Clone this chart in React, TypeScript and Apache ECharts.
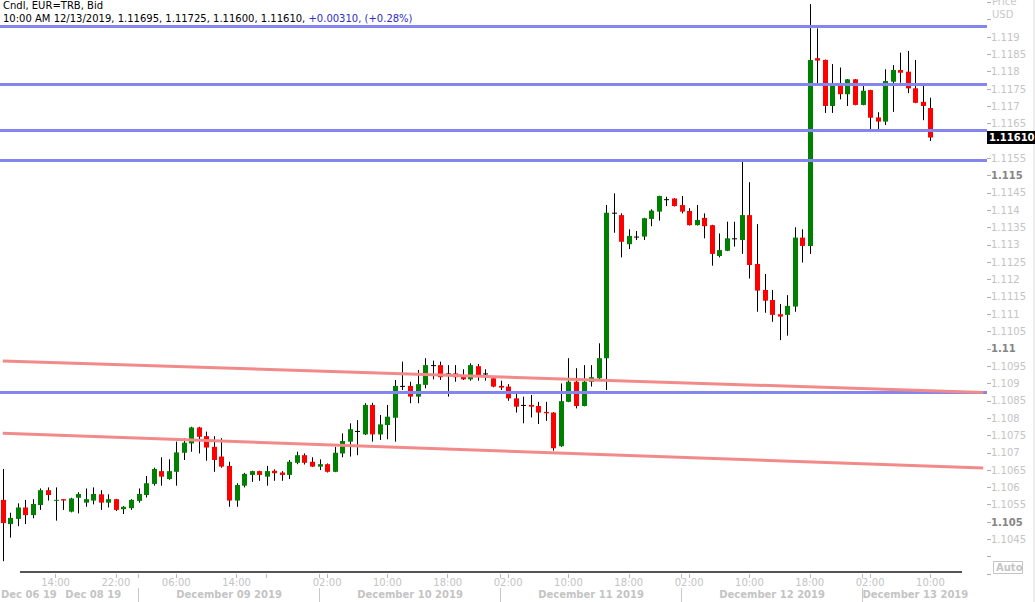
import React, { useEffect, useRef } from "react";
import * as echarts from "echarts";

// ---- time structure (hourly candles) ----
const sessionDays = ["Dec 06", "Dec 08", "Dec 09", "Dec 10", "Dec 11", "Dec 12", "Dec 13"];
const sessionFirstHour = [7, 22, 0, 0, 0, 0, 0];
const sessionLastHour = [21, 23, 23, 23, 23, 23, 10];
const emptySlots = 7;

const timeLabelIdx = [7, 15, 23, 31, 43, 51, 59, 67, 75, 83, 91, 99, 107, 115, 123];
const timeTickIdx = [7, 15, 18, 23, 31, 35, 42, 43, 51, 59, 66, 67, 75, 83, 90, 91, 99, 107, 114, 115, 123];
const dateLabelIdx = [3, 12, 30, 54, 78, 102, 121];
const dateLabels = ["Dec 06 19", "Dec 08 19", "December 09 2019", "December 10 2019", "December 11 2019", "December 12 2019", "December 13 2019"];
const daySeparatorIdx = [18, 42, 66, 90, 114];

// ---- OHLC values ----
const opens = [
  1.10564, 1.10494, 1.10509, 1.10542, 1.10520, 1.10549, 1.10592, 1.10562, 1.10566, 1.10530,
  1.10570, 1.10556, 1.10562, 1.10580, 1.10556, 1.10566, 1.10537, 1.10540, 1.10561, 1.10578,
  1.10610, 1.10647, 1.10624, 1.10645, 1.10700, 1.10727, 1.10773, 1.10748, 1.10717, 1.10689,
  1.10662, 1.10562, 1.10605, 1.10636, 1.10647, 1.10631, 1.10648, 1.10643, 1.10636, 1.10671,
  1.10693, 1.10674, 1.10660, 1.10667, 1.10645, 1.10698, 1.10732, 1.10763, 1.10753, 1.10838,
  1.10753, 1.10780, 1.10801, 1.10893, 1.10893, 1.10862, 1.10896, 1.10953, 1.10953, 1.10929,
  1.10929, 1.10921, 1.10912, 1.10950, 1.10929, 1.10915, 1.10893, 1.10891, 1.10857, 1.10838,
  1.10838, 1.10835, 1.10818, 1.10816, 1.10719, 1.10847, 1.10905, 1.10835, 1.10905, 1.10915,
  1.10973, 1.11393, 1.11386, 1.11302, 1.11324, 1.11324, 1.11375, 1.11396, 1.11432, 1.11434,
  1.11415, 1.11398, 1.11357, 1.11378, 1.11357, 1.11268, 1.11283, 1.11319, 1.11314, 1.11386,
  1.11245, 1.11170, 1.11141, 1.11100, 1.11098, 1.11122, 1.11321, 1.11297, 1.11839, 1.11834,
  1.11701, 1.11759, 1.11735, 1.11778, 1.11704, 1.11747, 1.11668, 1.11656, 1.11771, 1.11805,
  1.11800, 1.11752, 1.11713, 1.11695,
];
const highs = [
  1.10653, 1.10527, 1.10554, 1.10564, 1.10566, 1.10597, 1.10600, 1.10600, 1.10566, 1.10570,
  1.10586, 1.10597, 1.10600, 1.10592, 1.10580, 1.10567, 1.10546, 1.10566, 1.10597, 1.10633,
  1.10657, 1.10687, 1.10681, 1.10732, 1.10742, 1.10775, 1.10775, 1.10761, 1.10748, 1.10742,
  1.10674, 1.10612, 1.10642, 1.10648, 1.10648, 1.10662, 1.10652, 1.10647, 1.10679, 1.10703,
  1.10698, 1.10687, 1.10681, 1.10669, 1.10717, 1.10756, 1.10785, 1.10794, 1.10843, 1.10844,
  1.10809, 1.10838, 1.10910, 1.10963, 1.10905, 1.10939, 1.10973, 1.10966, 1.10963, 1.10953,
  1.10953, 1.10941, 1.10958, 1.10956, 1.10941, 1.10918, 1.10908, 1.10898, 1.10871, 1.10862,
  1.10867, 1.10847, 1.10847, 1.10817, 1.10900, 1.10973, 1.10944, 1.10953, 1.10953, 1.11016,
  1.11415, 1.11449, 1.11391, 1.11345, 1.11340, 1.11378, 1.11403, 1.11442, 1.11439, 1.11435,
  1.11441, 1.11406, 1.11415, 1.11391, 1.11358, 1.11333, 1.11367, 1.11367, 1.11540, 1.11481,
  1.11360, 1.11216, 1.11170, 1.11129, 1.11155, 1.11351, 1.11345, 1.11995, 1.11925, 1.11835,
  1.11822, 1.11812, 1.11779, 1.11779, 1.11759, 1.11748, 1.11683, 1.11807, 1.11819, 1.11855,
  1.11860, 1.11834, 1.11761, 1.11725,
];
const lows = [
  1.10387, 1.10455, 1.10488, 1.10494, 1.10511, 1.10535, 1.10562, 1.10504, 1.10535, 1.10528,
  1.10525, 1.10544, 1.10551, 1.10535, 1.10542, 1.10532, 1.10523, 1.10535, 1.10556, 1.10571,
  1.10605, 1.10605, 1.10622, 1.10605, 1.10679, 1.10703, 1.10698, 1.10677, 1.10645, 1.10657,
  1.10544, 1.10544, 1.10600, 1.10616, 1.10619, 1.10605, 1.10619, 1.10619, 1.10624, 1.10667,
  1.10666, 1.10659, 1.10650, 1.10643, 1.10644, 1.10687, 1.10689, 1.10693, 1.10751, 1.10732,
  1.10737, 1.10739, 1.10732, 1.10881, 1.10843, 1.10843, 1.10886, 1.10912, 1.10910, 1.10862,
  1.10905, 1.10910, 1.10908, 1.10908, 1.10908, 1.10889, 1.10881, 1.10850, 1.10816, 1.10785,
  1.10802, 1.10783, 1.10792, 1.10706, 1.10717, 1.10846, 1.10828, 1.10834, 1.10891, 1.10910,
  1.10881, 1.11335, 1.11264, 1.11288, 1.11314, 1.11314, 1.11354, 1.11370, 1.11412, 1.11411,
  1.11391, 1.11356, 1.11356, 1.11319, 1.11240, 1.11264, 1.11282, 1.11295, 1.11274, 1.11203,
  1.11107, 1.11104, 1.11078, 1.11025, 1.11038, 1.11107, 1.11249, 1.11274, 1.11766, 1.11681,
  1.11681, 1.11720, 1.11701, 1.11703, 1.11703, 1.11634, 1.11634, 1.11646, 1.11684, 1.11768,
  1.11738, 1.11709, 1.11660, 1.11600,
];
const closes = [
  1.10497, 1.10512, 1.10542, 1.10520, 1.10552, 1.10592, 1.10578, 1.10564, 1.10562, 1.10568,
  1.10581, 1.10566, 1.10581, 1.10556, 1.10566, 1.10535, 1.10544, 1.10564, 1.10581, 1.10612,
  1.10653, 1.10631, 1.10647, 1.10701, 1.10729, 1.10773, 1.10746, 1.10715, 1.10679, 1.10660,
  1.10562, 1.10607, 1.10639, 1.10647, 1.10636, 1.10647, 1.10641, 1.10636, 1.10674, 1.10693,
  1.10671, 1.10660, 1.10667, 1.10645, 1.10700, 1.10734, 1.10768, 1.10763, 1.10838, 1.10753,
  1.10782, 1.10804, 1.10893, 1.10893, 1.10862, 1.10898, 1.10953, 1.10953, 1.10918, 1.10929,
  1.10918, 1.10912, 1.10953, 1.10924, 1.10929, 1.10891, 1.10888, 1.10857, 1.10833, 1.10838,
  1.10833, 1.10816, 1.10814, 1.10713, 1.10849, 1.10905, 1.10835, 1.10905, 1.10918, 1.10973,
  1.11393, 1.11393, 1.11309, 1.11326, 1.11324, 1.11377, 1.11399, 1.11441, 1.11432, 1.11412,
  1.11396, 1.11357, 1.11372, 1.11354, 1.11274, 1.11285, 1.11319, 1.11319, 1.11386, 1.11242,
  1.11168, 1.11139, 1.11098, 1.11093, 1.11124, 1.11321, 1.11297, 1.11834, 1.11832, 1.11701,
  1.11759, 1.11735, 1.11778, 1.11704, 1.11745, 1.11667, 1.11656, 1.11773, 1.11805, 1.11797,
  1.11752, 1.11710, 1.11701, 1.11610,
];

// ---- study lines ----
const levelLines = [1.11932, 1.11764, 1.11632, 1.11545, 1.10874];
const upperTrend = [1.10965, 1.10874];
const lowerTrend = [1.10756, 1.10656];
const lastPrice = 1.1161;
const lastPriceText = "1.11610";

// ---- axis ----
const yMin = 1.1035;
const yMax = 1.12;
const yStep = 0.0005;
const yLabelMin = 1.1045;
const yLabelMax = 1.119;

const FONT = "DejaVu Sans";
const GREEN = "#008000";
const RED = "#ff0000";
const BLUE_LINE = "#8585ee";
const RED_LINE = "#f28a8a";

function buildCategories(): string[] {
  const cats: string[] = [];
  sessionDays.forEach((d, k) => {
    for (let h = sessionFirstHour[k]; h <= sessionLastHour[k]; h++) {
      cats.push(`${d} ${String(h).padStart(2, "0")}:00`);
    }
  });
  for (let k = 0; k < emptySlots; k++) cats.push("");
  return cats;
}

export default function App() {
  const ref = useRef<HTMLDivElement>(null);
  useEffect(() => {
    const chart = echarts.init(ref.current!, null, { renderer: "svg" });
    const categories = buildCategories();
    const lastCat = categories.length - 1;
    const data = opens.map((o, i) => [i, o, highs[i], lows[i], closes[i]]);

    const option: any = {
      animation: false,
      backgroundColor: "#ffffff",
      grid: { left: -1, right: 48, top: 2.4, bottom: 28, outerBoundsMode: "none", containLabel: false },
      xAxis: [
        {
          type: "category",
          data: categories,
          position: "bottom",
          axisLine: { show: false },
          axisTick: {
            show: true,
            alignWithLabel: true,
            length: 4,
            interval: (i: number) => timeTickIdx.includes(i),
            lineStyle: { color: "#b8b8b8" },
          },
          axisLabel: {
            interval: (i: number) => timeLabelIdx.includes(i),
            formatter: (v: string) => v.slice(-5),
            margin: 3,
            color: "#c4c4c4",
            fontFamily: FONT,
            fontSize: 10,
          },
          splitLine: { show: false },
        },
        {
          type: "category",
          data: categories,
          position: "bottom",
          offset: 14,
          axisLine: { show: false },
          axisTick: {
            show: true,
            alignWithLabel: true,
            length: 14,
            interval: (i: number) => daySeparatorIdx.includes(i),
            lineStyle: { color: "#c8c8c8" },
          },
          axisLabel: {
            interval: (i: number) => dateLabelIdx.includes(i),
            formatter: (_v: string, i: number) => {
              const k = dateLabelIdx.indexOf(i);
              if (k < 0) return "";
              return k === 0 ? `{f|${dateLabels[k]}}` : dateLabels[k];
            },
            margin: 1,
            color: "#c4c4c4",
            fontWeight: "bold",
            fontFamily: FONT,
            fontSize: 10,
            rich: {
              f: {
                padding: [0, 0, 0, 7],
                color: "#c4c4c4",
                fontWeight: "bold",
                fontFamily: FONT,
                fontSize: 10,
              },
            },
          },
          splitLine: { show: false },
        },
      ],
      yAxis: {
        type: "value",
        position: "right",
        min: yMin,
        max: yMax,
        interval: yStep,
        axisLine: { show: false },
        axisTick: { show: true, length: 4, lineStyle: { color: "#b0b0b0" } },
        splitLine: { show: false },
        axisLabel: {
          margin: 4,
          fontFamily: FONT,
          fontSize: 10,
          color: "#c4c4c4",
          formatter: (v: number) => {
            if (v < yLabelMin - 1e-9 || v > yLabelMax + 1e-9) return "";
            const s = String(parseFloat(v.toFixed(4)));
            const major = Math.abs(v / 0.005 - Math.round(v / 0.005)) < 1e-6;
            return major ? `{b|${s}}` : `{n|${s}}`;
          },
          rich: {
            n: { color: "#c4c4c4", fontFamily: FONT, fontSize: 10 },
            b: { color: "#858585", fontFamily: FONT, fontSize: 10, fontWeight: "bold" },
          },
        },
      },
      series: [
        {
          type: "custom",
          xAxisIndex: 0,
          data,
          encode: { x: 0, y: [1, 2, 3, 4] },
          renderItem: (_params: any, api: any) => {
            const i = api.value(0);
            const o = api.value(1);
            const h = api.value(2);
            const l = api.value(3);
            const c = api.value(4);
            const pO = api.coord([i, o]);
            const pC = api.coord([i, c]);
            const pH = api.coord([i, h]);
            const pL = api.coord([i, l]);
            const band = api.size([1, 0])[0];
            const bw = Math.max(3, Math.round(band * 0.68));
            const cx = Math.round(pO[0]);
            const top = Math.min(pO[1], pC[1]);
            const bottom = Math.max(pO[1], pC[1]);
            const color = c > o ? GREEN : c < o ? RED : "#000000";
            return {
              type: "group",
              children: [
                {
                  type: "line",
                  shape: { x1: cx + 0.5, y1: pH[1], x2: cx + 0.5, y2: pL[1] },
                  style: { stroke: "#000", lineWidth: 1 },
                },
                {
                  type: "rect",
                  shape: { x: cx + 0.5 - bw / 2, y: top, width: bw, height: Math.max(1, bottom - top) },
                  style: { fill: color },
                },
              ],
            };
          },
          markLine: {
            silent: true,
            animation: false,
            precision: 5,
            symbol: ["none", "none"],
            label: { show: false },
            lineStyle: { color: BLUE_LINE, width: 3, type: "solid" },
            data: [
              ...levelLines.map((v) => ({ yAxis: v })),
              [
                { coord: [0, upperTrend[0]], lineStyle: { color: RED_LINE, width: 3, type: "solid" } },
                { coord: [lastCat, upperTrend[1]] },
              ],
              [
                { coord: [0, lowerTrend[0]], lineStyle: { color: RED_LINE, width: 3, type: "solid" } },
                { coord: [lastCat, lowerTrend[1]] },
              ],
              {
                yAxis: lastPrice,
                lineStyle: { color: "rgba(0,0,0,0)", width: 0, opacity: 1 },
                label: {
                  show: true,
                  position: "end",
                  distance: 0,
                  opacity: 1,
                  formatter: lastPriceText,
                  backgroundColor: "#000000",
                  color: "#ffffff",
                  fontFamily: FONT,
                  fontWeight: "bold",
                  fontSize: 10,
                  lineHeight: 11,
                  padding: [1, 2, 1, 2],
                },
              },
            ],
          },
        },
      ],
      graphic: [
        {
          type: "text",
          left: 3,
          top: 0,
          z: 10,
          style: { text: "Cndl, EUR=TRB, Bid", fill: "#000", font: `10px '${FONT}'` },
        },
        {
          type: "text",
          left: 3,
          top: 13,
          z: 10,
          style: {
            text: "{k|10:00 AM 12/13/2019, 1.11695, 1.11725, 1.11600, 1.11610, }{c|+0.00310, (+0.28%)}",
            rich: {
              k: { fill: "#000", fontFamily: FONT, fontSize: 10 },
              c: { fill: "#2d2dc8", fontFamily: FONT, fontSize: 10 },
            },
          },
        },
        {
          type: "text",
          left: 992,
          top: -4,
          style: { text: "Price", fill: "#c8c8c8", font: `10px '${FONT}'` },
        },
        {
          type: "text",
          left: 992,
          top: 9,
          style: { text: "USD", fill: "#c8c8c8", font: `10px '${FONT}'` },
        },
        {
          type: "line",
          shape: { x1: 20, y1: 572, x2: 962, y2: 572 },
          style: { stroke: "#555555", lineWidth: 2 },
        },
        {
          type: "rect",
          shape: { x: 993.5, y: 561.5, width: 29, height: 12 },
          style: { fill: "#ffffff", stroke: "#c4c4c4", lineWidth: 1 },
        },
        {
          type: "text",
          left: 996,
          top: 562,
          style: { text: "Auto", fill: "#c4c4c4", font: `bold 10px '${FONT}'` },
        },
        {
          type: "rect",
          shape: { x: 1033, y: 0, width: 2, height: 602 },
          style: { fill: "#ececec" },
        },
      ],
    };
    chart.setOption(option);
    return () => chart.dispose();
  }, []);
  return (
    <div
      ref={ref}
      style={{ position: "absolute", left: 0, top: 0, width: 1035, height: 602, background: "#fff" }}
    />
  );
}
